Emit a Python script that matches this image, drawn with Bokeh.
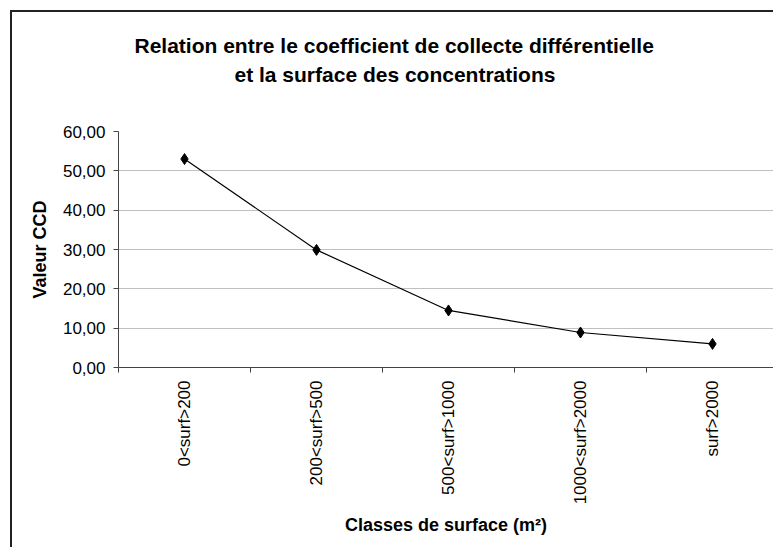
from bokeh.plotting import figure
from bokeh.models import FixedTicker, Range1d, Title
from bokeh.layouts import column
from bokeh.embed import file_html
from bokeh.resources import INLINE
import math

# ---- data ----
categories = ["0<surf>200", "200<surf>500", "500<surf>1000", "1000<surf>2000", "surf>2000"]
ccd_values = [53.0, 29.9, 14.5, 8.9, 6.0]
y_ticks = [0, 10, 20, 30, 40, 50, 60]
y_tick_labels = ["0,00", "10,00", "20,00", "30,00", "40,00", "50,00", "60,00"]
title_lines = ["Relation entre le coefficient de collecte différentielle",
               "et la surface des concentrations"]
x_title = "Classes de surface (m²)"
y_title = "Valeur CCD"

FONT = "Liberation Sans"

centers = [i + 0.5 for i in range(len(categories))]
bounds = list(range(len(categories) + 1))

W, H = 761, 535
LEFT, TOP, BOTTOM = 106, 119, 180
frame_w = W - LEFT
cat_px = 132.0
x_end = frame_w / cat_px

p = figure(width=W, height=H, output_backend="svg", toolbar_location=None,
           x_range=Range1d(0, x_end), y_range=Range1d(0, 60),
           min_border_left=LEFT, min_border_top=TOP, min_border_bottom=BOTTOM,
           min_border_right=0, background_fill_color="white",
           border_fill_color="white")
p.outline_line_color = None

# title: spacer + two left-anchored lines (stacked from the plot area upward)
spacer = Title(text=" ", text_font_size="10px", standoff=31)
line2 = Title(text=title_lines[1], align="left", offset=116, standoff=4,
              text_font=FONT, text_font_style="bold", text_font_size="21px",
              text_color="black")
line1 = Title(text=title_lines[0], align="left", offset=16, standoff=4,
              text_font=FONT, text_font_style="bold", text_font_size="21px",
              text_color="black")
p.add_layout(spacer, "above")
p.add_layout(line2, "above")
p.add_layout(line1, "above")

# x axis
p.xaxis.ticker = FixedTicker(ticks=centers, minor_ticks=bounds)
p.xaxis.major_label_overrides = {c: lab for c, lab in zip(centers, categories)}
p.xaxis.major_tick_line_color = None
p.xaxis.minor_tick_line_color = "#444444"
p.xaxis.minor_tick_out = 5
p.xaxis.minor_tick_in = 0
p.xaxis.major_label_orientation = math.pi / 2
p.xaxis.major_label_text_font = FONT
p.xaxis.major_label_text_font_size = "17px"
p.xaxis.major_label_text_color = "black"
p.xaxis.major_label_standoff = 7
p.xaxis.axis_line_color = "#444444"
p.xaxis.axis_label = x_title
p.xaxis.axis_label_text_font = FONT
p.xaxis.axis_label_text_font_style = "bold"
p.xaxis.axis_label_text_font_size = "18px"
p.xaxis.axis_label_text_color = "black"
p.xaxis.axis_label_standoff = 8

# y axis
p.yaxis.ticker = FixedTicker(ticks=y_ticks, minor_ticks=[])
p.yaxis.major_label_overrides = {t: lab for t, lab in zip(y_ticks, y_tick_labels)}
p.yaxis.major_tick_line_color = "#444444"
p.yaxis.major_tick_out = 5
p.yaxis.major_tick_in = 0
p.yaxis.axis_line_color = "#444444"
p.yaxis.major_label_text_font = FONT
p.yaxis.major_label_text_font_size = "17px"
p.yaxis.major_label_text_color = "black"
p.yaxis.major_label_standoff = 8
p.yaxis.axis_label = y_title
p.yaxis.axis_label_text_font = FONT
p.yaxis.axis_label_text_font_style = "bold"
p.yaxis.axis_label_text_font_size = "18px"
p.yaxis.axis_label_text_color = "black"
p.yaxis.axis_label_standoff = 10

p.xgrid.visible = False
p.ygrid.ticker = FixedTicker(ticks=y_ticks, minor_ticks=[])
p.ygrid.grid_line_color = "#c0c0c0"
p.ygrid.grid_line_width = 1

# data
p.line(x=centers, y=ccd_values, line_color="black", line_width=1.2)
p.scatter(x=centers, y=ccd_values, marker="diamond", size=11,
          fill_color="black", line_color="black")

layout = column(p, margin=(10, 0, 0, 10),
                styles={"border-left": "2px solid #222", "border-top": "2px solid #222"})

open("out.html", "w").write(file_html(layout, INLINE))
